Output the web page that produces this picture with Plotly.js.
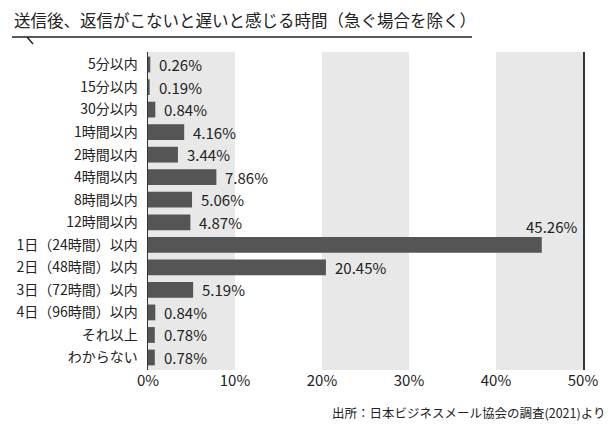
<!DOCTYPE html>
<html>
<head>
<meta charset="utf-8">
<script src="https://cdn.plot.ly/plotly-3.0.1.min.js"></script>
<style>
  body { margin: 0; background: #fff; }
  #chart { width: 616px; height: 431px; }
</style>
</head>
<body>
<div id="chart"></div>
<script>
const categories = ["5分以内", "15分以内", "30分以内", "1時間以内", "2時間以内", "4時間以内",
  "8時間以内", "12時間以内", "1日（24時間）以内", "2日（48時間）以内", "3日（72時間）以内",
  "4日（96時間）以内", "それ以上", "わからない"];
const shares = [0.26, 0.19, 0.84, 4.16, 3.44, 7.86, 5.06, 4.87, 45.26, 20.45, 5.19, 0.84, 0.78, 0.78];
const tickVals = [0, 10, 20, 30, 40, 50];
const tickText = ["0%", "10%", "20%", "30%", "40%", "50%"];

const titleText = "送信後、返信がこないと遅いと感じる時間（急ぐ場合を除く）";
const sourceText = "出所：日本ビジネスメール協会の調査(2021)より";

const font = "'Noto Sans CJK JP', 'Noto Sans', sans-serif";
const xMax = tickVals[tickVals.length - 1];
const maxVal = Math.max(...shares);

const trace = {
  type: "bar",
  orientation: "h",
  x: shares,
  y: categories,
  width: 0.7,
  marker: { color: "#555555" },
  hoverinfo: "none"
};

// grey bands on every other 10% column
const shapes = [];
for (let i = 0; i < tickVals.length - 1; i += 2) {
  shapes.push({
    type: "rect", xref: "x", yref: "paper",
    x0: tickVals[i], x1: tickVals[i + 1], y0: 0, y1: 1,
    fillcolor: "#e8e8e8", line: { width: 0 }, layer: "below"
  });
}

// value labels: the biggest one sits above its bar at the right edge
const annotations = shares.map(function (v, i) {
  if (v === maxVal) {
    return {
      x: xMax, y: categories[i], xref: "x", yref: "y",
      text: v.toFixed(2) + "%", showarrow: false,
      xanchor: "right", yanchor: "middle", xshift: -4, yshift: 18,
      font: { family: font, size: 15, color: "#222" }
    };
  }
  return {
    x: v, y: categories[i], xref: "x", yref: "y",
    text: v.toFixed(2) + "%", showarrow: false,
    xanchor: "left", yanchor: "middle", xshift: 7,
    font: { family: font, size: 15, color: "#222" }
  };
});

annotations.push({
  x: 0, y: 1, xref: "paper", yref: "paper", xshift: -136, yshift: 32,
  text: titleText, showarrow: false, xanchor: "left", yanchor: "middle",
  font: { family: font, size: 16.5, color: "#222" }
});
annotations.push({
  x: 1, y: 0, xref: "paper", yref: "paper", xshift: 24, yshift: -42,
  text: sourceText, showarrow: false, xanchor: "right", yanchor: "middle",
  font: { family: font, size: 12.5, color: "#222" }
});

const layout = {
  width: 616,
  height: 431,
  margin: { l: 148, r: 33, t: 52, b: 61 },
  paper_bgcolor: "#fff",
  plot_bgcolor: "rgba(0,0,0,0)",
  font: { family: font, size: 14, color: "#222" },
  showlegend: false,
  xaxis: {
    range: [0, xMax],
    tickvals: tickVals,
    ticktext: tickText,
    showgrid: false,
    zeroline: false,
    showline: false,
    ticks: "",
    tickfont: { family: font, size: 15, color: "#222" },
    fixedrange: true
  },
  yaxis: {
    autorange: "reversed",
    showgrid: false,
    zeroline: false,
    showline: true,
    mirror: true,
    linecolor: "#333",
    linewidth: 1.5,
    ticks: "",
    ticklabelstandoff: 6,
    tickfont: { family: font, size: 14, color: "#222" },
    fixedrange: true
  },
  shapes: shapes,
  annotations: annotations
};

Plotly.newPlot("chart", [trace], layout, { displayModeBar: false, staticPlot: true }).then(function () {
  // underline under the title with a small tail, in page pixels
  const svg = document.querySelector("#chart .main-svg:last-of-type");
  const ns = "http://www.w3.org/2000/svg";
  const path = document.createElementNS(ns, "path");
  path.setAttribute("d", "M12,37 L472,37 M27,37 L33,44");
  path.setAttribute("stroke", "#222");
  path.setAttribute("stroke-width", "1.5");
  path.setAttribute("fill", "none");
  svg.appendChild(path);
});
</script>
</body>
</html>
